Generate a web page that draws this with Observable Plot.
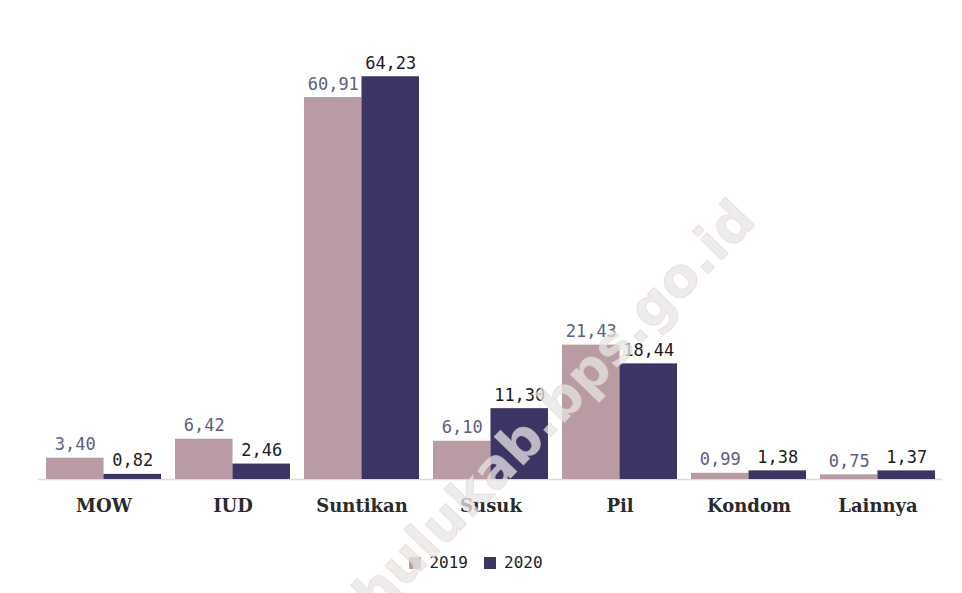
<!DOCTYPE html>
<html>
<head>
<meta charset="utf-8">
<script src="https://cdn.jsdelivr.net/npm/d3@7"></script>
<script src="https://cdn.jsdelivr.net/npm/@observablehq/plot@0.6"></script>
<style>
  html, body { margin: 0; padding: 0; background: #fff; }
  #wrap { position: relative; width: 962px; height: 593px; overflow: hidden; }
  #legend { display: flex; justify-content: center; margin-top: 11px; padding-left: 6px; }
  #wm {
    position: absolute; left: 522px; top: 440px;
    transform: translate(-50%, -50%) rotate(-46deg);
    font-family: "DejaVu Sans", sans-serif; font-weight: bold; font-size: 54px;
    white-space: nowrap; color: rgba(229,229,229,0.75);
    -webkit-text-stroke: 0.8px rgba(235,170,130,0.3);
    pointer-events: none;
  }
</style>
</head>
<body>
<div id="wrap">
  <div id="chart"></div>
  <div id="legend"></div>
  <div id="wm">mahulukab.bps.go.id</div>
</div>
<script>
const categories = ["MOW", "IUD", "Suntikan", "Susuk", "Pil", "Kondom", "Lainnya"];
const years = ["2019", "2020"];
const values2019 = [3.40, 6.42, 60.91, 6.10, 21.43, 0.99, 0.75];
const values2020 = [0.82, 2.46, 64.23, 11.30, 18.44, 1.38, 1.37];
const colors = ["#b99ca3", "#3c3465"];

const fmt = v => v.toFixed(2).replace(".", ",");
const d2019 = categories.map((c, i) => ({cat: c, year: "2019", v: values2019[i]}));
const d2020 = categories.map((c, i) => ({cat: c, year: "2020", v: values2020[i]}));

const W = 962, H = 535, ml = 38, mr = 20, mt = 20, mb = 56;
const pIn = 0.11, pOut = 0.055;
const step = (W - ml - mr) / (categories.length - pIn + 2 * pOut);
const bw = step * (1 - pIn);

const chart = Plot.plot({
  width: W, height: H,
  marginLeft: ml, marginRight: mr, marginTop: mt, marginBottom: mb,
  style: {fontFamily: "DejaVu Serif", fontSize: "18px", fontWeight: "bold", color: "#2a2a2a", background: "#fff"},
  x: {domain: categories, paddingInner: pIn, paddingOuter: pOut, label: null, tickSize: 0, tickPadding: 20},
  y: {domain: [0, 73.2], axis: null},
  color: {domain: years, range: colors},
  marks: [
    Plot.ruleY([0], {stroke: "#dcdcdc", strokeWidth: 1.5}),
    Plot.barY(d2019, {x: "cat", y: "v", fill: "year", insetRight: bw / 2}),
    Plot.barY(d2020, {x: "cat", y: "v", fill: "year", insetLeft: bw / 2}),
    Plot.text(d2019, {x: "cat", y: "v", text: d => fmt(d.v), dx: -bw / 4, dy: -8, lineAnchor: "bottom",
      fill: "#5b5e82", fontFamily: "DejaVu Sans Mono", fontWeight: "normal", fontSize: 17}),
    Plot.text(d2020, {x: "cat", y: "v", text: d => fmt(d.v), dx: bw / 4, dy: -8, lineAnchor: "bottom",
      fill: "#1c1c1c", fontFamily: "DejaVu Sans Mono", fontWeight: "normal", fontSize: 17})
  ]
});
document.getElementById("chart").appendChild(chart);

const legend = Plot.legend({
  color: {domain: years, range: colors},
  swatchSize: 12,
  style: {fontFamily: "DejaVu Sans Mono", fontSize: "16px", color: "#222"}
});
document.getElementById("legend").appendChild(legend);
</script>
</body>
</html>
